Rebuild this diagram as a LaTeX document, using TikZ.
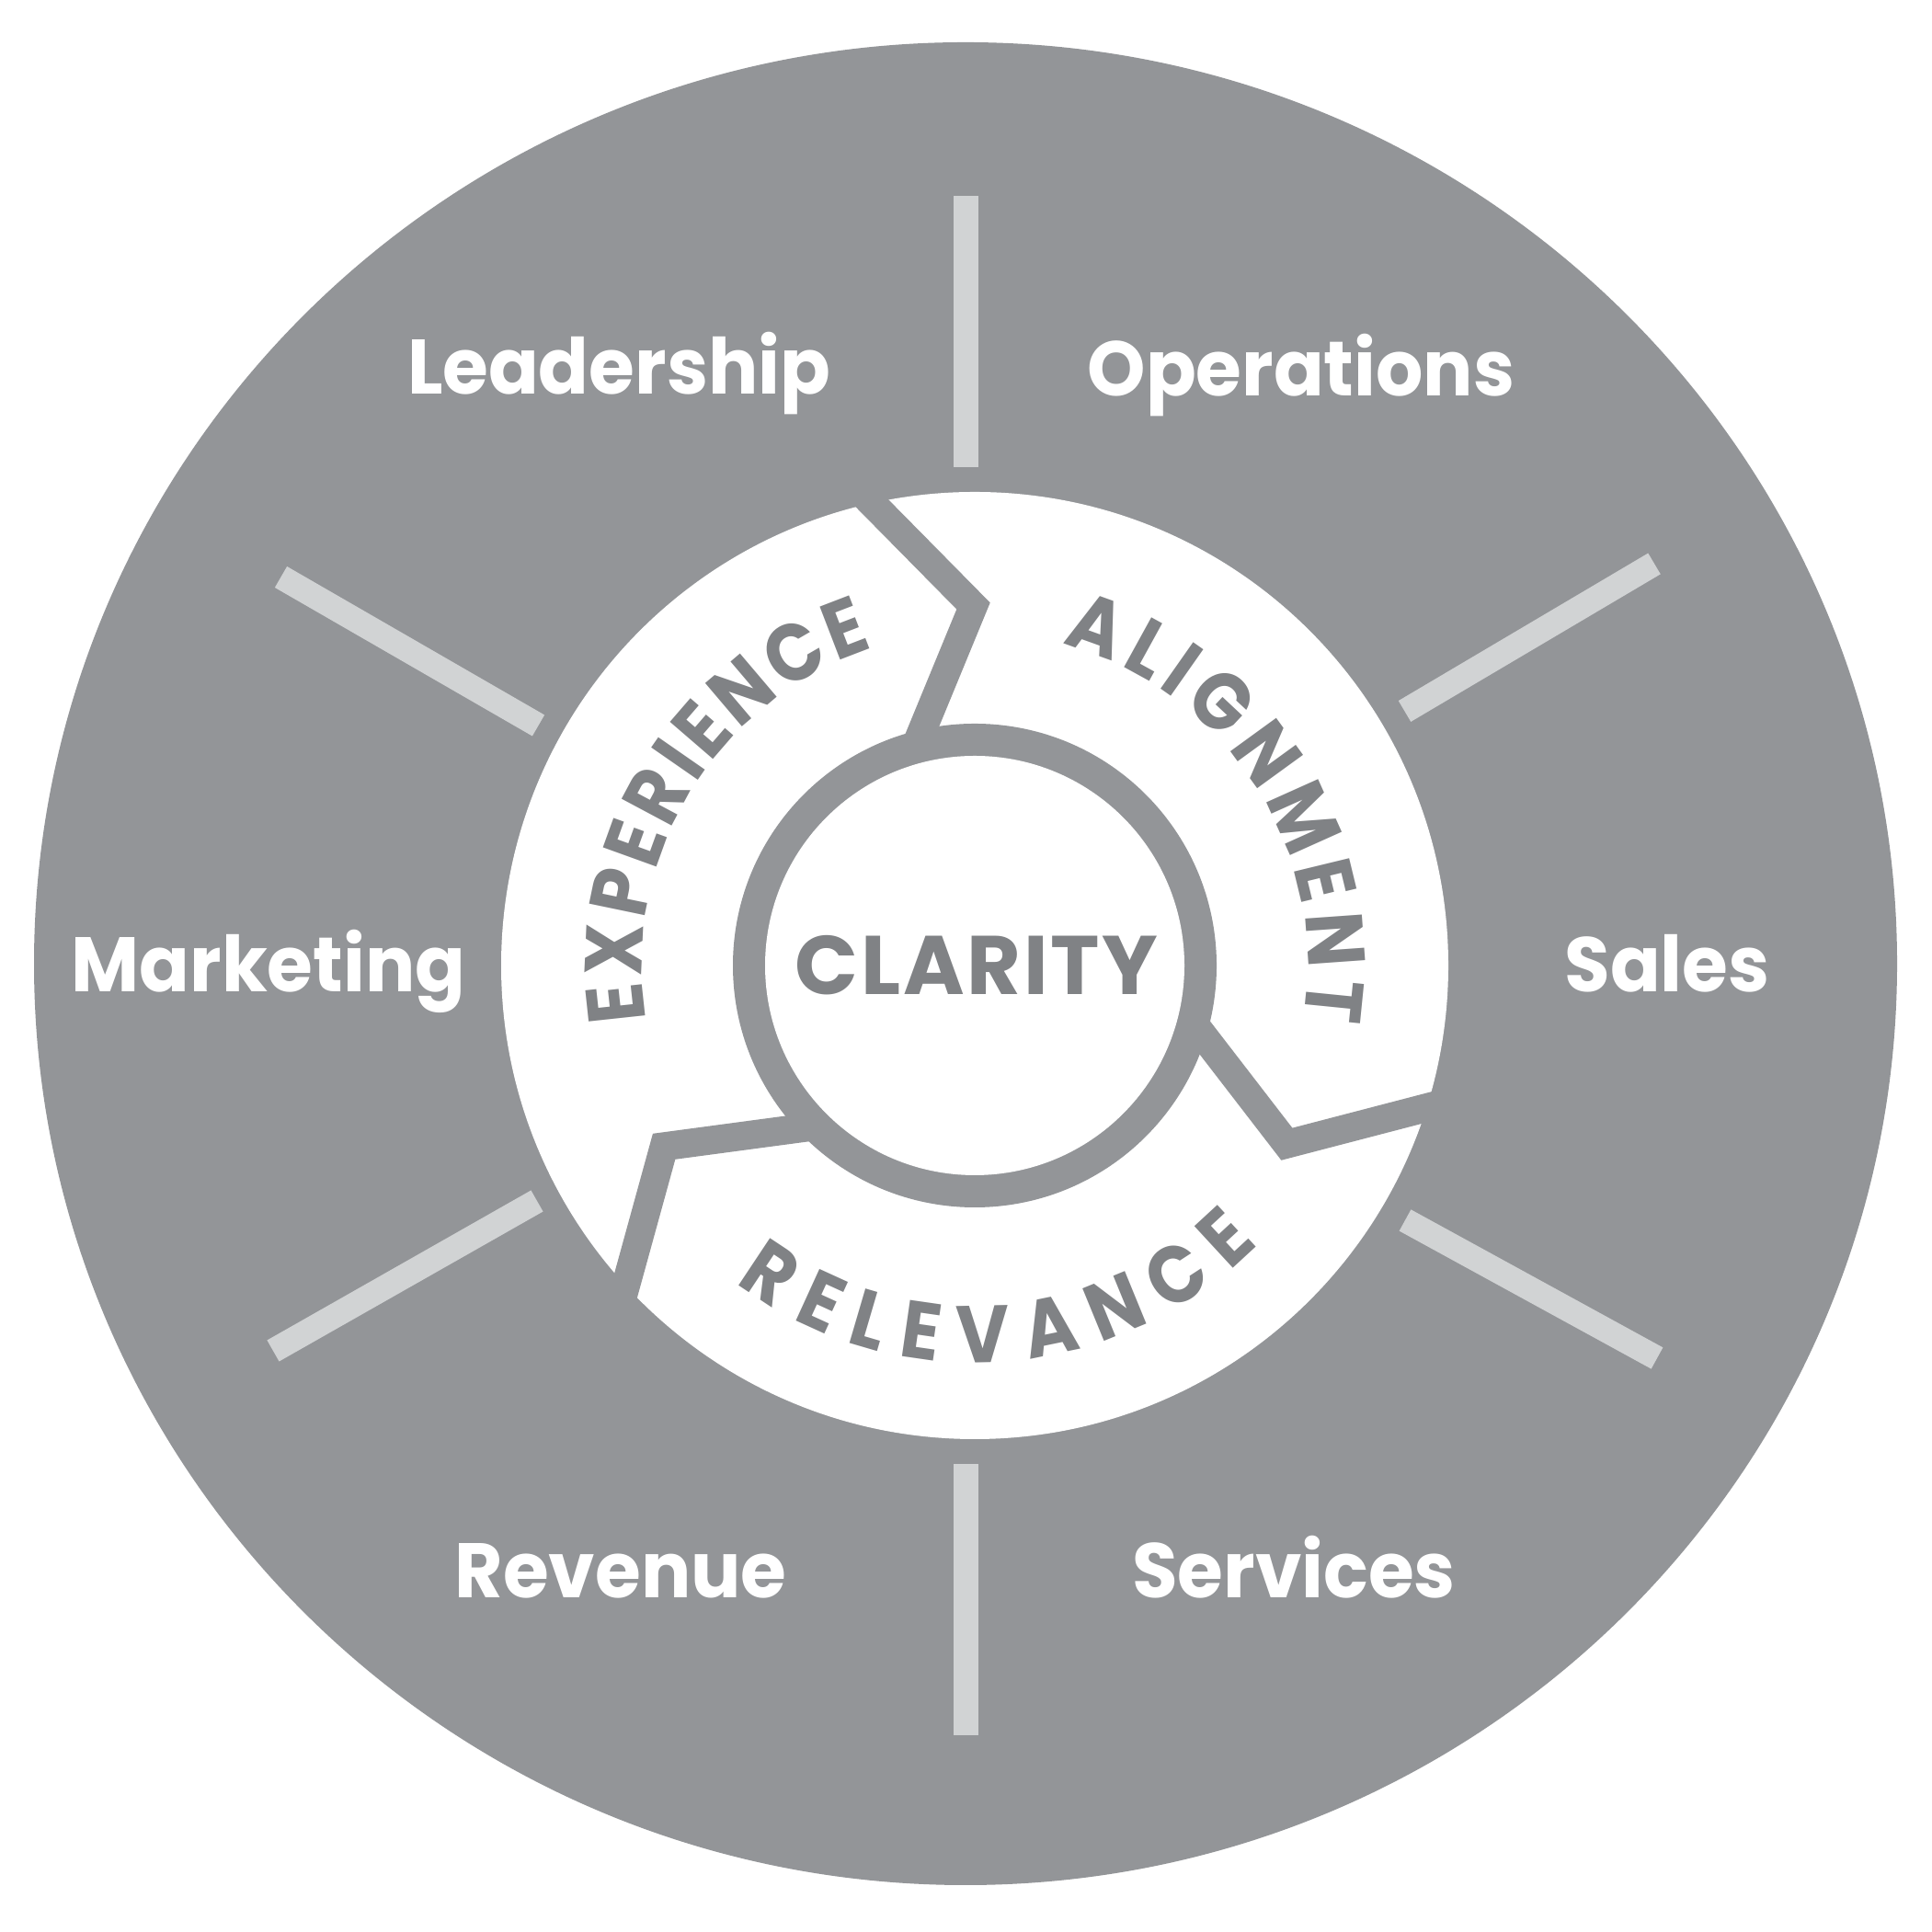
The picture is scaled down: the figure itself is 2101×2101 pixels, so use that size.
\documentclass[tikz,border=0pt]{standalone}
\usepackage{fontspec}
\setmainfont{Poppins}
\newfontfamily\lblfam{Poppins}[FakeStretch=0.96]
\newfontfamily\curvefam{Poppins}[FakeStretch=0.9]
\newfontfamily\clarfam{Poppins}[LetterSpace=3]
\usetikzlibrary{decorations.text}
\definecolor{bggrey}{HTML}{939598}
\definecolor{txtgrey}{HTML}{808285}
\definecolor{barclr}{HTML}{D1D3D4}
\newcommand{\curvefont}{\curvefam\bfseries\fontsize{25}{30}\selectfont}
\begin{document}
\begin{tikzpicture}[x=0.01cm,y=0.01cm,
  bar/.style={draw=barclr, line width=7.54pt, line cap=butt},
  gapline/.style={draw=bggrey, line width=8.8pt, line join=miter},
  lbl/.style={text=white, font=\lblfam\bfseries\fontsize{23.9}{28}\selectfont, anchor=base, inner sep=0pt},
  clar/.style={text=txtgrey, font=\clarfam\bfseries\fontsize{25.7}{30}\selectfont, anchor=base, inner sep=0pt},
  ]
\useasboundingbox (0,0) rectangle (2101,2101);
\fill[white] (0,0) rectangle (2101,2101);
\coordinate (bc) at (1050,1053);
\coordinate (rc) at (1060,1051);
\fill[bggrey] (bc) ellipse [x radius=1013, y radius=1002];
% bars
\coordinate (t1) at (1050.5,1888); \coordinate (t2) at (1050.5,1593);
\coordinate (b1) at (1050.5,509);  \coordinate (b2) at (1050.5,214);
\coordinate (ul1) at (305.5,1473.5); \coordinate (ul2) at (585.5,1312);
\coordinate (ur1) at (1799,1488); \coordinate (ur2) at (1527.5,1327.5);
\coordinate (ll1) at (297,632); \coordinate (ll2) at (584,795);
\coordinate (lr1) at (1802,624); \coordinate (lr2) at (1528,774);
\draw[bar] (t1) -- (t2);
\draw[bar] (b1) -- (b2);
\draw[bar] (ul1) -- (ul2);
\draw[bar] (ur1) -- (ur2);
\draw[bar] (ll1) -- (ll2);
\draw[bar] (lr1) -- (lr2);
% white ring with chevron gaps
\fill[white] (rc) circle[radius=515];
\foreach \a in {0,-120,-240}{
  \draw[gapline, shift={(rc)}, rotate=\a] (-153.4,545) -- (-1.5,391) -- (-63.1,241.4);
}
\fill[bggrey] (rc) circle[radius=263];
\fill[white] (rc) circle[radius=228];
% curved texts
\path[decorate, decoration={text along path, text={|\curvefont|EXPERIENCE}, text align=fit to path, text color=txtgrey}]
  ([shift={(189.5:362)}]rc) arc[start angle=189.5, end angle=107.7, radius=362];
\path[decorate, decoration={text along path, text={|\curvefont|ALIGNMENT}, text align=fit to path, text color=txtgrey}]
  ([shift={(74.8:362)}]rc) arc[start angle=74.8, end angle=-9.4, radius=362];
\path[decorate, decoration={text along path, text={|\curvefont|RELEVANCE}, text align=fit to path, text color=txtgrey}]
  ([shift={(233:432)}]rc) arc[start angle=233, end angle=315.5, radius=432];
% center
\node[clar] (clarity) at (1062,1019) {CLARITY};
% labels
\node[lbl] (lead) at (673,1672) {Leadership};
\node[lbl] (oper) at (1415,1670) {Operations};
\node[lbl] (mark) at (292,1022) {Marketing};
\node[lbl] (sales) at (1813,1022) {Sales};
\node[lbl] (rev) at (675,363) {Revenue};
\node[lbl] (serv) at (1407,363) {Services};
\end{tikzpicture}
\end{document}
